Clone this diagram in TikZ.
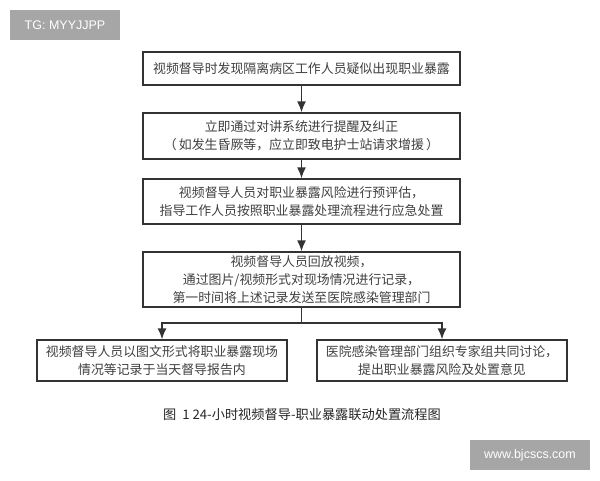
\documentclass[tikz,border=0pt]{standalone}
\usepackage{fontspec}
\setmainfont{Noto Sans CJK SC}
\newfontfamily\latinsans{Liberation Sans}
\usetikzlibrary{arrows.meta}
\definecolor{boxline}{HTML}{333333}
\definecolor{txt}{HTML}{404040}
\definecolor{wmgray}{HTML}{A6A6A6}
\tikzset{
  flowbox/.style={draw=boxline, line width=1.4pt, fill=white, align=center, inner sep=0pt,
    text=txt, font=\fontsize{12.9}{18}\selectfont},
  arr/.style={draw=boxline, line width=1.4pt, -{Latex[length=11pt,width=9pt]}},
  plainline/.style={draw=boxline, line width=1.4pt},
  mark box/.style={fill=wmgray, text=white, inner sep=0pt, font=\latinsans\fontsize{12.5}{14}\selectfont},
  caption/.style={text=black!85, inner sep=0pt, font=\fontsize{13.2}{16}\selectfont}
}
\begin{document}
\begin{tikzpicture}[x=1pt,y=-1pt]
\useasboundingbox (0,0) rectangle (600,480);
\fill[white] (0,0) rectangle (600,480);

\node[mark box, minimum width=110pt, minimum height=30pt] (tg) at (65,25) {TG: MYYJJPP};
\node[mark box, minimum width=120pt, minimum height=30pt] (www) at (530,455) {www.bjcscs.com};

\node[flowbox, minimum width=317pt, minimum height=33pt] (b1) at (301.5,68.5)
  {视频督导时发现隔离病区工作人员疑似出现职业暴露};
\node[flowbox, minimum width=317pt, minimum height=46pt] (b2) at (301.5,136)
  {立即通过对讲系统进行提醒及纠正\\（\,如发生昏厥等，应立即致电护士站请求增援\,）};
\node[flowbox, minimum width=317pt, minimum height=45pt] (b3) at (301.5,201.5)
  {视频督导人员对职业暴露风险进行预评估，\\指导工作人员按照职业暴露处理流程进行应急处置};
\node[flowbox, minimum width=317pt, minimum height=55pt] (b4) at (301.5,279.5)
  {视频督导人员回放视频，\\通过图片/视频形式对现场情况进行记录，\\第一时间将上述记录发送至医院感染管理部门};
\node[flowbox, minimum width=250pt, minimum height=41pt] (b5) at (162,360.5)
  {视频督导人员以图文形式将职业暴露现场\\情况等记录于当天督导报告内};
\node[flowbox, minimum width=250pt, minimum height=41pt] (b6) at (442,360.5)
  {医院感染管理部门组织专家组共同讨论，\\提出职业暴露风险及处置意见};

\node[caption] (cap) at (302,415) {图\ \ 1 24-小时视频督导-职业暴露联动处置流程图};

\draw[arr] (b1) -- (b2);
\draw[arr] (b2) -- (b3);
\draw[arr] (b3) -- (b4);
\coordinate (j) at (301.5,323);
\draw[plainline] (b4.south) -- (j);
\draw[arr] (j) -| (b5.north);
\draw[arr] (j) -| (b6.north);
\end{tikzpicture}
\end{document}
